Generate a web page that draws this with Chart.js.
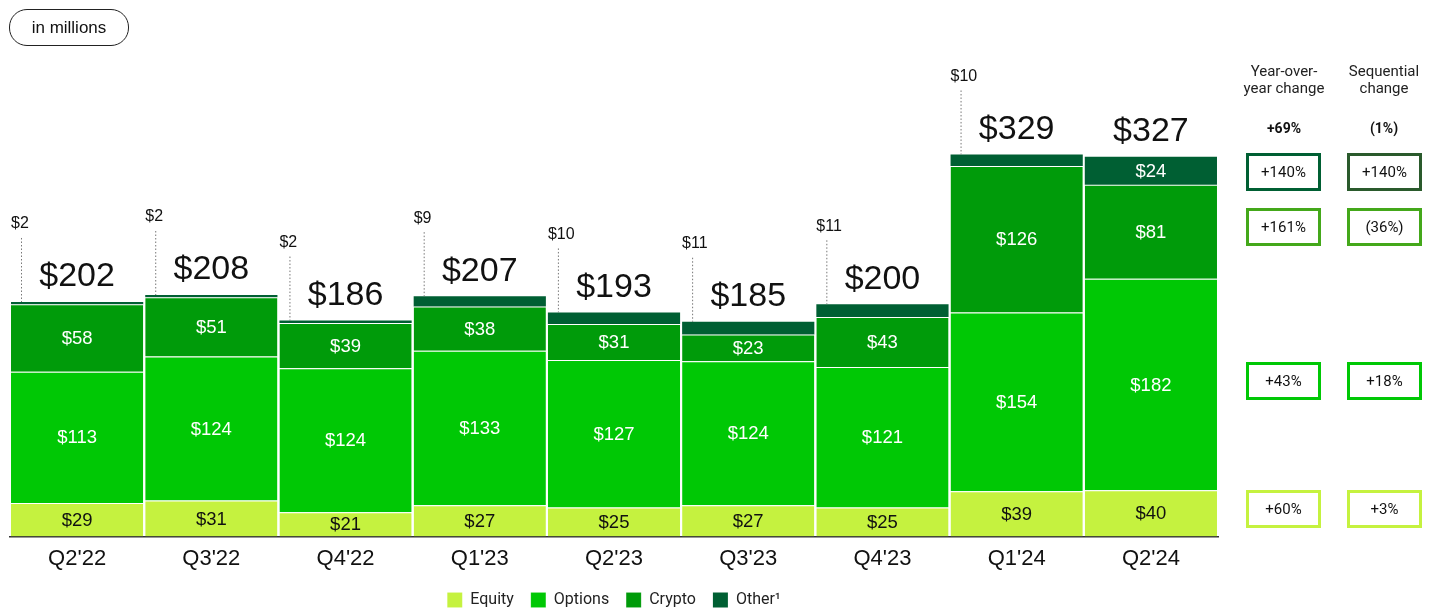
<!DOCTYPE html>
<html>
<head>
<meta charset="utf-8">
<script src="https://cdn.jsdelivr.net/npm/chart.js@4"></script>
<style>
  body { margin: 0; background: #fff; }
  #wrap { position: relative; width: 1431px; height: 616px; overflow: hidden; }
  #grafico { position: absolute; left: 0; top: 0; }
  .pill { position: absolute; left: 9px; top: 9px; width: 118px; height: 35px; border: 1.5px solid #222;
          border-radius: 18px; font: 17px "Liberation Sans", Arial, sans-serif; color: #111;
          text-align: center; line-height: 35px; }
  .cab { position: absolute; width: 110px; text-align: center; font: 15px Roboto, sans-serif; color: #222; line-height: 17px; }
  .tot { position: absolute; width: 80px; text-align: center; font: bold 14px Roboto, sans-serif; color: #111; }
  .caja { position: absolute; width: 69px; height: 32px; border: 3px solid #000; text-align: center;
          font: 15px Roboto, sans-serif; line-height: 32px; color: #111; }
</style>
</head>
<body>
<div id="wrap">
  <canvas id="grafico" width="1431" height="616"></canvas>
  <div class="pill">in millions</div>
  <div id="tabla"></div>
</div>
<script>
// datos (en millones)
const trimestres = ["Q2'22", "Q3'22", "Q4'22", "Q1'23", "Q2'23", "Q3'23", "Q4'23", "Q1'24", "Q2'24"];
const equity  = [29, 31, 21, 27, 25, 27, 25, 39, 40];
const options = [113, 124, 124, 133, 127, 124, 121, 154, 182];
const crypto  = [58, 51, 39, 38, 31, 23, 43, 126, 81];
const other   = [2, 2, 2, 9, 10, 11, 11, 10, 24];
const totales = [202, 208, 186, 207, 193, 185, 200, 329, 327];

const nombres = ["Equity", "Options", "Crypto", "Other\u00b9"];
const colores = ["#c5f23f", "#00c805", "#009b0a", "#005f33"];

// tabla de la derecha
const yoyTotal = "+69%";
const seqTotal = "(1%)";
const yoy = ["+140%", "+161%", "+43%", "+60%"];   // Other, Crypto, Options, Equity
const seq = ["+140%", "(36%)", "+18%", "+3%"];
const bordeTabla = ["#005f33", "#44a81a", "#00c805", "#c5f23f"];

function armarTabla(){
    var html = '';
    html += '<div class="cab" style="left:1229px;top:63px;">Year-over-<br>year change</div>';
    html += '<div class="cab" style="left:1329px;top:63px;">Sequential<br>change</div>';
    html += '<div class="tot" style="left:1244px;top:120px;">'+yoyTotal+'</div>';
    html += '<div class="tot" style="left:1344px;top:120px;">'+seqTotal+'</div>';
    var tops = [153, 208, 362, 490];
    for (var i = 0; i < 4; i++) {
        html += '<div class="caja" style="left:1246px;top:'+tops[i]+'px;border-color:'+bordeTabla[i]+';">'+yoy[i]+'</div>';
        html += '<div class="caja" style="left:1347px;top:'+tops[i]+'px;border-color:'+(i == 0 ? '#2a5a2c' : bordeTabla[i])+';">'+seq[i]+'</div>';
    }
    document.getElementById('tabla').innerHTML = html;
}

const etiquetas = {
    id: 'etiquetas',
    afterDatasetsDraw(chart) {
        const ctx = chart.ctx;
        ctx.save();
        ctx.textBaseline = 'middle';
        // valores dentro de cada segmento
        for (var d = 0; d < 4; d++) {
            var meta = chart.getDatasetMeta(d);
            meta.data.forEach(function(el, j){
                var alto = Math.abs(el.base - el.y);
                if (alto < 20) return;
                ctx.font = '18.5px "Liberation Sans", Arial, sans-serif';
                ctx.textAlign = 'center';
                ctx.fillStyle = d == 0 ? '#111' : '#fff';
                ctx.fillText('$' + chart.data.datasets[d].data[j], el.x, (el.y + el.base) / 2 + 1);
            });
        }
        // totales y Other fuera de la barra
        var metaTop = chart.getDatasetMeta(3);
        metaTop.data.forEach(function(el, j){
            var arriba = el.y;
            var izq = el.x - el.width / 2;
            ctx.fillStyle = '#111';
            ctx.textAlign = 'center';
            ctx.font = '34px "Liberation Sans", Arial, sans-serif';
            ctx.fillText('$' + totales[j], el.x, arriba - 25);
            if (Math.abs(el.base - el.y) < 20) {
                ctx.font = '16px "Liberation Sans", Arial, sans-serif';
                ctx.textAlign = 'left';
                ctx.fillText('$' + other[j], izq, arriba - 78);
                ctx.strokeStyle = '#777';
                ctx.lineWidth = 1;
                ctx.setLineDash([1.5, 2]);
                ctx.beginPath();
                ctx.moveTo(izq + 10.5, arriba - 64);
                ctx.lineTo(izq + 10.5, arriba);
                ctx.stroke();
                ctx.setLineDash([]);
            }
        });
        ctx.restore();
    }
};

function mostrar_grafico(){
    var series = [equity, options, crypto, other];
    var datasets = series.map(function(s, i){
        return {
            label: nombres[i],
            data: s,
            backgroundColor: colores[i],
            borderColor: 'rgba(255,255,255,0.45)',
            borderWidth: {top: i < 3 ? 1 : 0, bottom: 0, left: 0, right: 0},
            borderSkipped: false,
            categoryPercentage: 1,
            barPercentage: 0.985
        };
    });
    new Chart(document.getElementById('grafico'), {
        type: 'bar',
        data: { labels: trimestres, datasets: datasets },
        options: {
            responsive: false,
            animation: false,
            layout: { padding: { left: 10, right: 213, top: 72, bottom: -2 } },
            scales: {
                x: {
                    stacked: true,
                    grid: { display: false, drawTicks: false },
                    border: { display: true, color: '#333', width: 1.5 },
                    ticks: { color: '#111', font: { family: '"Liberation Sans", Arial, sans-serif', size: 22 }, padding: 9 },
                    afterFit: function(scale){ scale.height -= 6; }
                },
                y: { stacked: true, display: false, min: 0, max: 400 }
            },
            plugins: {
                tooltip: { enabled: false },
                legend: {
                    position: 'bottom',
                    labels: {
                        boxWidth: 15, boxHeight: 15, padding: 17, color: '#222',
                        font: { family: 'Roboto, sans-serif', size: 16 }
                    }
                }
            }
        },
        plugins: [etiquetas]
    });
}

armarTabla();
mostrar_grafico();
</script>
</body>
</html>
